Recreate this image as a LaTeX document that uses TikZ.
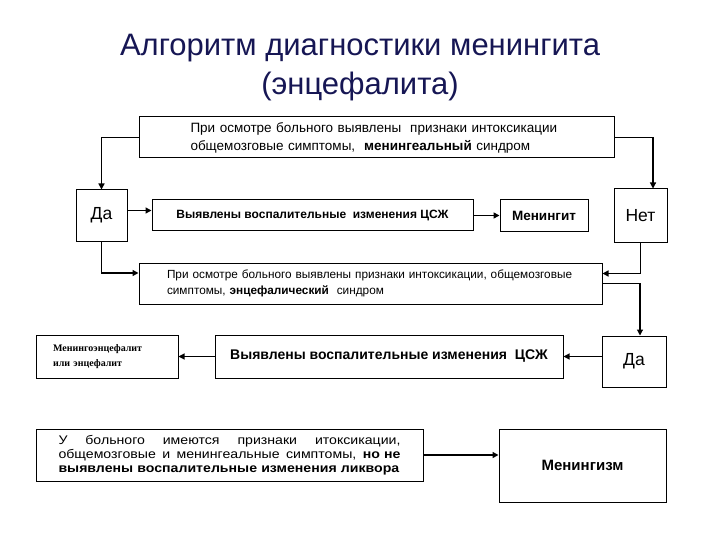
\documentclass[tikz,border=0pt]{standalone}
\usepackage{fontspec}
\setmainfont{Liberation Sans}
\newfontfamily\serifbold{Liberation Serif}
\newfontfamily\widesf[FakeStretch=1.13]{Liberation Sans}
\usepackage{xcolor}
\usetikzlibrary{arrows.meta, positioning}

\definecolor{titleblue}{RGB}{22,22,84}
\newcommand{\spreadline}[1]{\leavevmode\hbox to 342pt{#1}}

\tikzset{
  box/.style={draw, line width=1pt, inner sep=0pt},
  arr/.style={-{Triangle[length=6pt,width=6pt]}, line width=1.1pt},
  thickarr/.style={arr, line width=1.9pt},
}

\begin{document}
\begin{tikzpicture}[x=1pt, y=-1pt]
        \useasboundingbox (0,0) rectangle (720,540);

        % Title
        \node[align=center, text=titleblue, font=\fontsize{31}{39}\selectfont] (title) at (360,68)
            {Алгоритм диагностики менингита\\(энцефалита)};

        % Meningitis branch
        \node[box, minimum width=475pt, minimum height=41pt, text width=372pt, align=left,
              font=\fontsize{13.5}{18}\selectfont] (osm1) at (376.5,137.5)
            {При осмотре больного выявлены \ признаки интоксикации\\общемозговые симптомы, \ \textbf{менингеальный} синдром};
        \node[box, minimum width=51pt, minimum height=51pt, font=\fontsize{17.5}{20}\selectfont] (da1) at (101.5,215.5) {Да};
        \node[box, minimum width=321pt, minimum height=31pt, font=\bfseries\fontsize{12}{14}\selectfont] (vos1) at (312.5,215.5)
            {Выявлены воспалительные \ изменения ЦСЖ};
        \node[box, minimum width=88pt, minimum height=32pt, font=\bfseries\fontsize{13.5}{15}\selectfont] (men1) at (544,215.5) {Менингит};
        \node[box, minimum width=53pt, minimum height=53pt, font=\fontsize{17.5}{20}\selectfont] (net1) at (640.5,215.5) {Нет};

        % Encephalitis branch
        \node[box, minimum width=463pt, minimum height=41pt, text width=407pt, align=left,
              font=\fontsize{11.8}{16}\selectfont] (osm2) at (370.5,283.5)
            {При осмотре больного выявлены признаки интоксикации, общемозговые\\симптомы, \textbf{энцефалический} \ синдром};
        \node[box, minimum width=64pt, minimum height=51pt, font=\fontsize{17.5}{20}\selectfont] (da2) at (634,361.5) {Да};
        \node[box, minimum width=348pt, minimum height=43pt, font=\bfseries\fontsize{14}{16}\selectfont] (vos2) at (389,356.5)
            {Выявлены воспалительные изменения \ ЦСЖ};
        \node[box, minimum width=142pt, minimum height=43pt, text width=108pt, align=left,
              font=\serifbold\bfseries\fontsize{10}{15}\selectfont] (menenc) at (107,356.5)
            {Менингоэнцефалит\\или энцефалит};

        % Meningism
        \node[box, minimum width=387pt, minimum height=52pt, text width=342pt, align=left,
              font=\widesf\fontsize{12.5}{14}\selectfont] (osm3) at (229.5,455)
            {\spreadline{У\hfill больного\hfill имеются\hfill признаки\hfill итоксикации,}\\
             \spreadline{общемозговые\hfill и\hfill менингеальные\hfill симптомы,\hfill \textbf{но не}}\\
             \spreadline{\textbf{выявлены воспалительные изменения ликвора}\hss}};
        \node[box, minimum width=167pt, minimum height=73pt, font=\bfseries\fontsize{15}{17}\selectfont] (menz) at (582.5,465.5) {Менингизм};

        % Connectors
        \draw[thickarr] (osm1.west) -| (da1.north);
        \draw[arr] (osm1.east) -| ([xshift=12.5pt]net1.north);
        \draw[thickarr] ([yshift=5pt]da1.east) -- ([yshift=5pt]vos1.west);
        \draw[thickarr] (vos1.east) -- (men1.west);
        \draw[thickarr] (da1.south) |- ([yshift=10.5pt]osm2.west);
        \draw[thickarr] (net1.south) |- ([yshift=10pt]osm2.east);
        \draw[arr] (osm2.east) -| ([xshift=6pt]da2.north);
        \draw[arr] (da2.west |- vos2.east) -- (vos2.east);
        \draw[arr] (vos2.west) -- (menenc.east);
        \draw[thickarr] (osm3.east) -- (osm3.east -| menz.west);
\end{tikzpicture}
\end{document}
